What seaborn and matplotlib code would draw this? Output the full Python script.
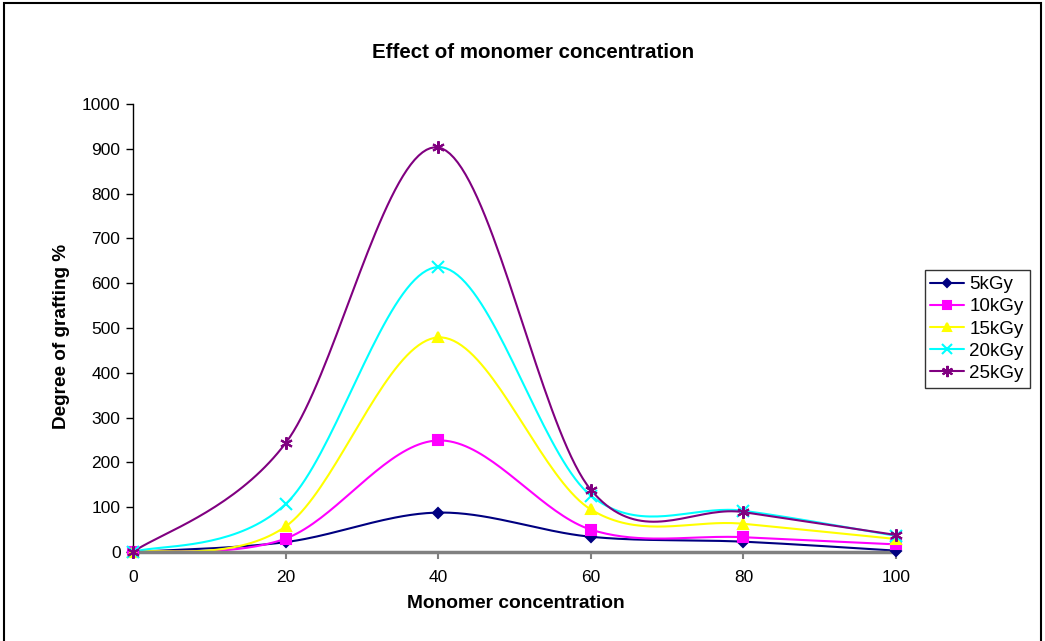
import numpy as np
import pandas as pd
import matplotlib
matplotlib.use("Agg")
import matplotlib.pyplot as plt
from matplotlib.lines import Line2D
from matplotlib.patches import Rectangle
import seaborn as sns

# ---- data ----
concentration = [0, 20, 40, 60, 80, 100]
series_names = ["5kGy", "10kGy", "15kGy", "20kGy", "25kGy"]
g5 = [0, 22, 88, 34, 23, 3]
g10 = [0, 30, 249, 50, 33, 17]
g15 = [0, 57, 479, 95, 63, 29]
g20 = [0, 107, 636, 126, 92, 36]
g25 = [0, 243, 903, 139, 89, 38]
series_values = [g5, g10, g15, g20, g25]

colors = ["#000080", "#FF00FF", "#FFFF00", "#00FFFF", "#800080"]
markers = ["D", "s", "^", "x", (6, 2, 0)]
msizes = [5, 7, 7, 8, 9]

sns.set_theme(style="white")
plt.rcParams["font.family"] = ["Liberation Sans", "DejaVu Sans"]
plt.rcParams["text.color"] = "black"
plt.rcParams["xtick.color"] = "black"
plt.rcParams["ytick.color"] = "black"


def smooth(xs, ys, n=40):
    # Excel-like smoothing (Catmull-Rom style Bezier)
    P = np.column_stack([xs, ys]).astype(float)
    P = np.vstack([P[0], P, P[-1]])
    out = []
    t = np.linspace(0, 1, n)
    for i in range(1, len(P) - 2):
        p0, p1, p2, p3 = P[i - 1], P[i], P[i + 1], P[i + 2]
        c1 = p1 + (p2 - p0) / 6.0
        c2 = p2 - (p3 - p1) / 6.0
        seg = (((1 - t) ** 3)[:, None] * p1 + (3 * (1 - t) ** 2 * t)[:, None] * c1
               + (3 * (1 - t) * t ** 2)[:, None] * c2 + (t ** 3)[:, None] * p2)
        out.append(seg if i == 1 else seg[1:])
    return np.vstack(out)


fig = plt.figure(figsize=(10.45, 6.41), dpi=100)
ax = fig.add_axes([133 / 1045, 1 - 552 / 641, (896 - 133) / 1045, (552 - 104) / 641])

rows = []
for name, vals in zip(series_names, series_values):
    curve = smooth(concentration, vals)
    for k, (cx, cy) in enumerate(curve):
        rows.append({"series": name, "order": k, "x": cx, "y": cy})
curves = pd.DataFrame(rows)

pts = pd.DataFrame([{"series": name, "x": c, "y": v}
                    for name, vals in zip(series_names, series_values)
                    for c, v in zip(concentration, vals)])

for name, col, mk, ms in zip(series_names, colors, markers, msizes):
    sub = curves[curves["series"] == name]
    sns.lineplot(data=sub, x="x", y="y", sort=False, estimator=None, ax=ax,
                 color=col, linewidth=1.5, legend=False, clip_on=False)
    sp = pts[pts["series"] == name]
    ax.plot(sp["x"], sp["y"], linestyle="none", marker=mk, markersize=ms,
            color=col, markeredgecolor=col, markeredgewidth=1.5, clip_on=False, zorder=5)

ax.set_xlim(0, 100)
ax.set_ylim(0, 1000)
ax.set_xticks(concentration)
ax.set_yticks(range(0, 1001, 100))
ax.set_xlabel("")
ax.set_ylabel("")
ax.tick_params(axis="y", direction="out", length=5, width=1, color="black",
               labelcolor="black", labelsize=12.5, pad=4, left=True)
ax.tick_params(axis="x", direction="out", length=5, width=1.5, color="#808080",
               labelcolor="black", labelsize=12.5, pad=8, bottom=True)
for s in ["top", "right"]:
    ax.spines[s].set_visible(False)
ax.spines["left"].set_color("black")
ax.spines["left"].set_linewidth(1)
ax.spines["bottom"].set_color("#808080")
ax.spines["bottom"].set_linewidth(2.5)
ax.grid(False)

fig.text(533 / 1045, 1 - 53 / 641, "Effect of monomer concentration", ha="center",
         va="center", fontsize=14.8, fontweight="bold", color="black")
fig.text(516 / 1045, 1 - 603 / 641, "Monomer concentration", ha="center",
         va="center", fontsize=13.8, fontweight="bold", color="black")
fig.text(62 / 1045, 1 - 336 / 641, "Degree of grafting %", ha="center",
         va="center", fontsize=13.7, fontweight="bold", rotation=90, color="black")

handles = [Line2D([0], [0], color=c, marker=m, markersize=ms * 0.9, linewidth=1.5,
                  markeredgecolor=c, markeredgewidth=1.5)
           for c, m, ms in zip(colors, markers, msizes)]
leg = fig.legend(handles, series_names, loc="center", bbox_to_anchor=(977 / 1045, 1 - 329 / 641),
                 frameon=True, fancybox=False, edgecolor="black", fontsize=13.5,
                 handlelength=1.8, handletextpad=0.3, labelspacing=0.27, borderpad=0.3,
                 borderaxespad=0)
leg.get_frame().set_linewidth(1)

fig.patches.append(Rectangle((4 / 1045, -0.02), (1041 - 4) / 1045, 1.02 - 3 / 641,
                             transform=fig.transFigure, fill=False, edgecolor="black",
                             linewidth=1.5))

fig.savefig("out.png", dpi=100)
